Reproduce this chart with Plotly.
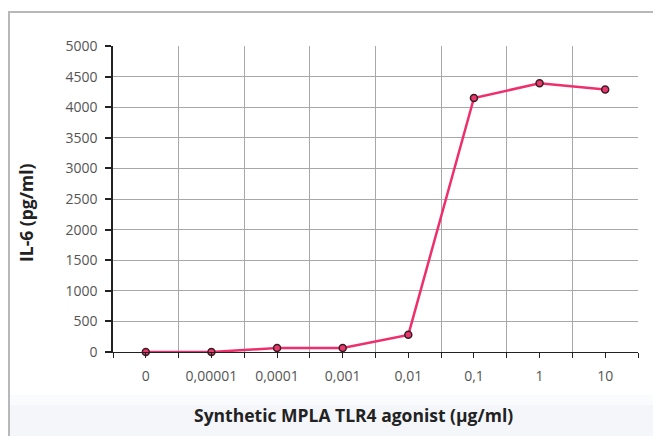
import plotly.graph_objects as go

categories = ["0", "0,00001", "0,0001", "0,001", "0,01", "0,1", "1", "10"]
il6_values = [0, 0, 65, 65, 280, 4150, 4390, 4290]
y_ticks = [0, 500, 1000, 1500, 2000, 2500, 3000, 3500, 4000, 4500, 5000]
x_title = "<b>Synthetic MPLA TLR4 agonist (µg/ml)</b>"
y_title = "<b>IL-6 (pg/ml)</b>"

x_pos = list(range(len(categories)))
boundaries = [i - 0.5 for i in range(len(categories) + 1)]

OFF = 8  # page body margin
W, H = 661 - OFF, 436 - OFF
L, R, T, B = 113 - OFF, 638 - OFF, 46 - OFF, 352 - OFF  # plot area in figure px
PW, PH = R - L, B - T


def px(x):
    return (x - OFF - L) / PW


def py(y):
    return (B - (y - OFF)) / PH


fig = go.Figure()
fig.add_trace(go.Scatter(
    x=x_pos, y=il6_values, mode="lines+markers",
    line=dict(color="#ef2f6c", width=2.5),
    marker=dict(size=7, color="#e8386d", line=dict(color="#3b1c24", width=1.5)),
    showlegend=False, cliponaxis=False,
))

# bottom tint and frame border
fig.add_shape(type="rect", xref="paper", yref="paper",
              x0=px(9), x1=px(700), y0=py(440), y1=py(405),
              fillcolor="#f4f6fa", line=dict(width=0), layer="below")
fig.add_shape(type="rect", xref="paper", yref="paper",
              x0=px(9), x1=px(700), y0=py(405), y1=py(395),
              fillcolor="#fafbfd", line=dict(width=0), layer="below")
fig.add_shape(type="rect", xref="paper", yref="paper",
              x0=px(9), x1=px(700), y0=py(450), y1=py(12),
              fillcolor="rgba(0,0,0,0)", line=dict(color="#b8b8b8", width=2), layer="below")

title_font = dict(family="Open Sans", size=17.5, color="#222222")
fig.add_annotation(text=x_title, xref="paper", yref="paper",
                   x=px(353), y=py(415), xanchor="center", yanchor="middle",
                   showarrow=False, font=title_font)
fig.add_annotation(text=y_title, xref="paper", yref="paper",
                   x=px(26), y=py(213), xanchor="center", yanchor="middle",
                   textangle=-90, showarrow=False, font=title_font)

fig.update_layout(
    width=W, height=H,
    margin=dict(l=L, r=W - R, t=T, b=H - B),
    paper_bgcolor="white", plot_bgcolor="white",
    font=dict(family="Open Sans", size=14, color="#555555"),
    xaxis=dict(
        range=[-0.5, len(categories) - 0.5],
        tickmode="array", tickvals=x_pos, ticktext=categories,
        showgrid=False, ticks="outside", ticklen=5, tickcolor="#222", tickwidth=1,
        showline=True, linecolor="#222", linewidth=1.2,
        zeroline=False,
        minor=dict(tickmode="array", tickvals=boundaries, showgrid=True,
                   gridcolor="#a8a8a8", gridwidth=1.3, ticks="outside", ticklen=5,
                   tickcolor="#222"),
        ticklabelstandoff=6,
    ),
    yaxis=dict(
        range=[0, 5000], tickmode="array", tickvals=y_ticks,
        showgrid=True, gridcolor="#a8a8a8", gridwidth=1.3,
        ticks="outside", ticklen=6, tickcolor="#222", tickwidth=1.5,
        showline=True, linecolor="#222", linewidth=1.5,
        zeroline=False, ticklabelstandoff=5,
    ),
)

fig.write_html("out.html")
